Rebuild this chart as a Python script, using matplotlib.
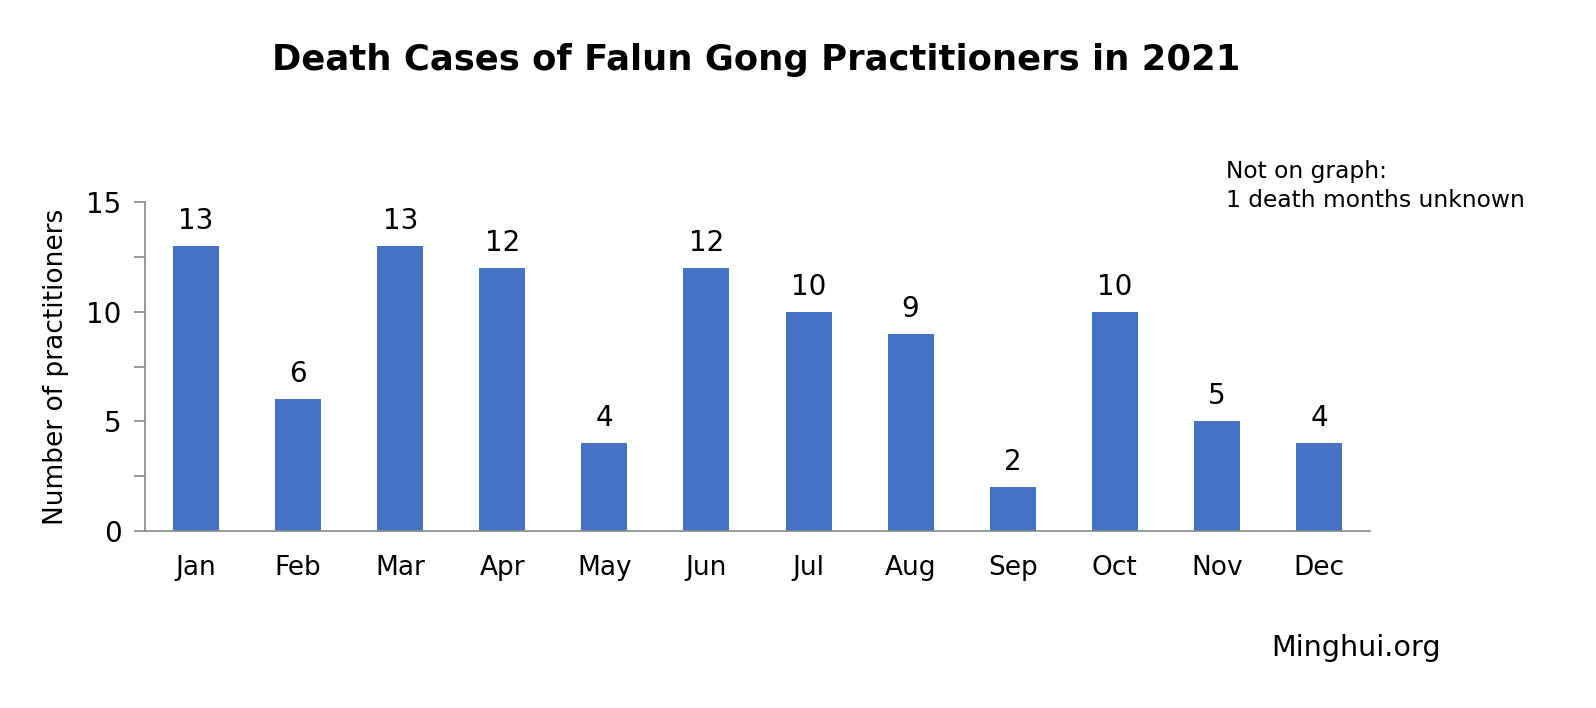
import matplotlib.pyplot as plt
from matplotlib.ticker import MultipleLocator

months = ['Jan', 'Feb', 'Mar', 'Apr', 'May', 'Jun', 'Jul', 'Aug', 'Sep', 'Oct', 'Nov', 'Dec']
deaths = [13, 6, 13, 12, 4, 12, 10, 9, 2, 10, 5, 4]

plt.rcParams['font.family'] = ['DejaVu Sans']

fig = plt.figure(figsize=(15.96, 7.08), dpi=100)
ax = fig.add_axes([145 / 1596, 1 - 531 / 708, 1225 / 1596, 329 / 708])

x = range(len(months))
bars = ax.bar(x, deaths, width=0.45, color='#4472C4')
for b, v in zip(bars, deaths):
    ax.text(b.get_x() + b.get_width() / 2, v + 0.5, str(v), ha='center', va='bottom', fontsize=20)

ax.set_xlim(-0.5, len(months) - 0.5)
ax.set_ylim(0, 15)
ax.set_xticks(list(x))
ax.set_xticklabels(months, fontsize=19)
ax.yaxis.set_major_locator(MultipleLocator(5))
ax.yaxis.set_minor_locator(MultipleLocator(2.5))
ax.tick_params(axis='y', which='both', length=8, width=1.2, color='#888888', labelsize=20, pad=9)
ax.tick_params(axis='x', length=0, pad=17)
for s in ['top', 'right']:
    ax.spines[s].set_visible(False)
for s in ['left', 'bottom']:
    ax.spines[s].set_color('#888888')
    ax.spines[s].set_linewidth(1.2)
ax.set_ylabel('Number of practitioners', fontsize=19, labelpad=12)

fig.text(0.474, 0.915, 'Death Cases of Falun Gong Practitioners in 2021', ha='center', va='center',
         fontsize=25.5, fontweight='bold')
fig.text(1226 / 1596, 1 - 186 / 708, 'Not on graph:\n1 death months unknown', ha='left', va='center',
         fontsize=16.8, linespacing=1.3)
fig.text(1356 / 1596, 1 - 648 / 708, 'Minghui.org', ha='center', va='center', fontsize=20.6)

fig.savefig('out.png', dpi=100)
